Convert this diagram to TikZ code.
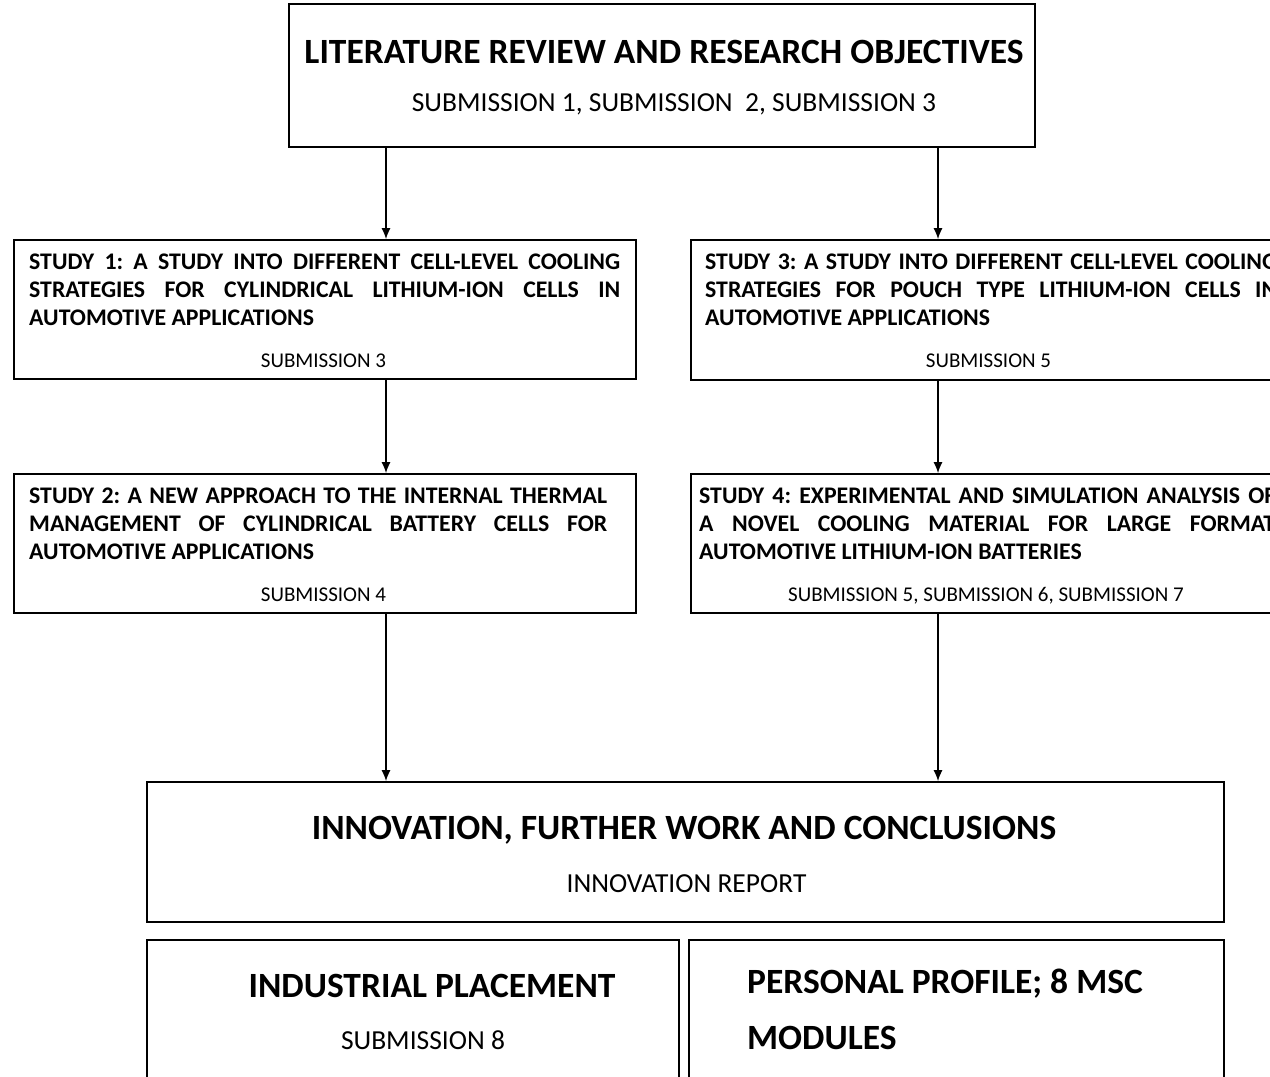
\documentclass[tikz,border=0pt]{standalone}
\usepackage{fontspec}
\setmainfont{Carlito}
\usetikzlibrary{arrows.meta}
\begin{document}
\frenchspacing
\begin{tikzpicture}[x=1pt,y=-1pt]
\tikzset{
  frame/.style={draw, line width=1.6pt, inner sep=0pt, rectangle},
  arr/.style={line width=1.6pt, -{Latex[length=11pt,width=9pt]}},
  studytxt/.style={inner sep=0pt, anchor=base west, align=left, font=\fontsize{23.8}{28}\selectfont\bfseries},
  subtxt/.style={inner sep=0pt, anchor=base, font=\fontsize{21}{25}\selectfont},
  bigtitle/.style={inner sep=0pt, anchor=base, font=\fontsize{35.5}{40}\selectfont\bfseries},
  midtxt/.style={inner sep=0pt, anchor=base, font=\fontsize{27.5}{32}\selectfont},
}
\useasboundingbox (0,0) rectangle (1270,1077);
\clip (0,0) rectangle (1270,1077);
\fill[white] (0,0) rectangle (1270,1077);

\coordinate (c1) at (386,0);
\coordinate (c2) at (938,0);

% top box
\node[frame, minimum width=746pt, minimum height=143pt] (top) at (662,75.5) {};
\node[bigtitle] (t1) at (664,63.5) {LITERATURE REVIEW AND RESEARCH OBJECTIVES};
\node[midtxt] (t2) at (674,111) {SUBMISSION 1, SUBMISSION\ \ 2, SUBMISSION 3};

% study boxes
\node[frame, minimum width=622pt, minimum height=139pt] (s1) at (325,309.5) {};
\node[studytxt] (s1t) at (29,325.5) {\makebox[591pt][s]{STUDY 1: A STUDY INTO DIFFERENT CELL-LEVEL COOLING}\\
\makebox[591pt][s]{STRATEGIES FOR CYLINDRICAL LITHIUM-ION CELLS IN}\\
AUTOMOTIVE APPLICATIONS};
\node[subtxt] (s1s) at (323.5,367.8) {SUBMISSION 3};

\node[frame, minimum width=595pt, minimum height=140pt] (s3) at (988.5,310) {};
\node[studytxt] (s3t) at (705,325.5) {\makebox[572pt][s]{STUDY 3: A STUDY INTO DIFFERENT CELL-LEVEL COOLING}\\
\makebox[572pt][s]{STRATEGIES FOR POUCH TYPE LITHIUM-ION CELLS IN}\\
AUTOMOTIVE APPLICATIONS};
\node[subtxt] (s3s) at (988.5,367.8) {SUBMISSION 5};

\node[frame, minimum width=622pt, minimum height=139pt] (s2) at (325,543.5) {};
\node[studytxt] (s2t) at (29,559.5) {\makebox[578pt][s]{STUDY 2: A NEW APPROACH TO THE INTERNAL THERMAL}\\
\makebox[578pt][s]{MANAGEMENT OF CYLINDRICAL BATTERY CELLS FOR}\\
AUTOMOTIVE APPLICATIONS};
\node[subtxt] (s2s) at (323.5,601.8) {SUBMISSION 4};

\node[frame, minimum width=595pt, minimum height=139pt] (s4) at (988.5,543.5) {};
\node[studytxt] (s4t) at (699,559.5) {\makebox[576pt][s]{STUDY 4: EXPERIMENTAL AND SIMULATION ANALYSIS OF}\\
\makebox[576pt][s]{A NOVEL COOLING MATERIAL FOR LARGE FORMAT}\\
AUTOMOTIVE LITHIUM-ION BATTERIES};
\node[subtxt] (s4s) at (986,601.8) {SUBMISSION 5, SUBMISSION 6, SUBMISSION 7};

% innovation
\node[frame, minimum width=1077pt, minimum height=140pt] (inn) at (685.5,852) {};
\node[bigtitle] (inn1) at (684,839.5) {INNOVATION, FURTHER WORK AND CONCLUSIONS};
\node[midtxt] (inn2) at (686.5,892) {INNOVATION REPORT};

% bottom boxes
\node[frame, minimum width=532pt, minimum height=180pt] (ind) at (413,1030) {};
\node[bigtitle] (ind1) at (432,997.5) {INDUSTRIAL PLACEMENT};
\node[midtxt] (ind2) at (423,1049) {SUBMISSION 8};

\node[frame, minimum width=535pt, minimum height=180pt] (per) at (956.5,1030) {};
\node[inner sep=0pt, anchor=base west, align=left, font=\fontsize{35.5}{56}\selectfont\bfseries] (per1) at (747,1049) {PERSONAL PROFILE; 8 MSC\\MODULES};

% arrows
\draw[arr] (top.south -| c1) -- (s1.north -| c1);
\draw[arr] (top.south -| c2) -- (s3.north -| c2);
\draw[arr] (s1.south -| c1) -- (s2.north -| c1);
\draw[arr] (s3.south -| c2) -- (s4.north -| c2);
\draw[arr] (s2.south -| c1) -- (inn.north -| c1);
\draw[arr] (s4.south -| c2) -- (inn.north -| c2);
\end{tikzpicture}
\end{document}
